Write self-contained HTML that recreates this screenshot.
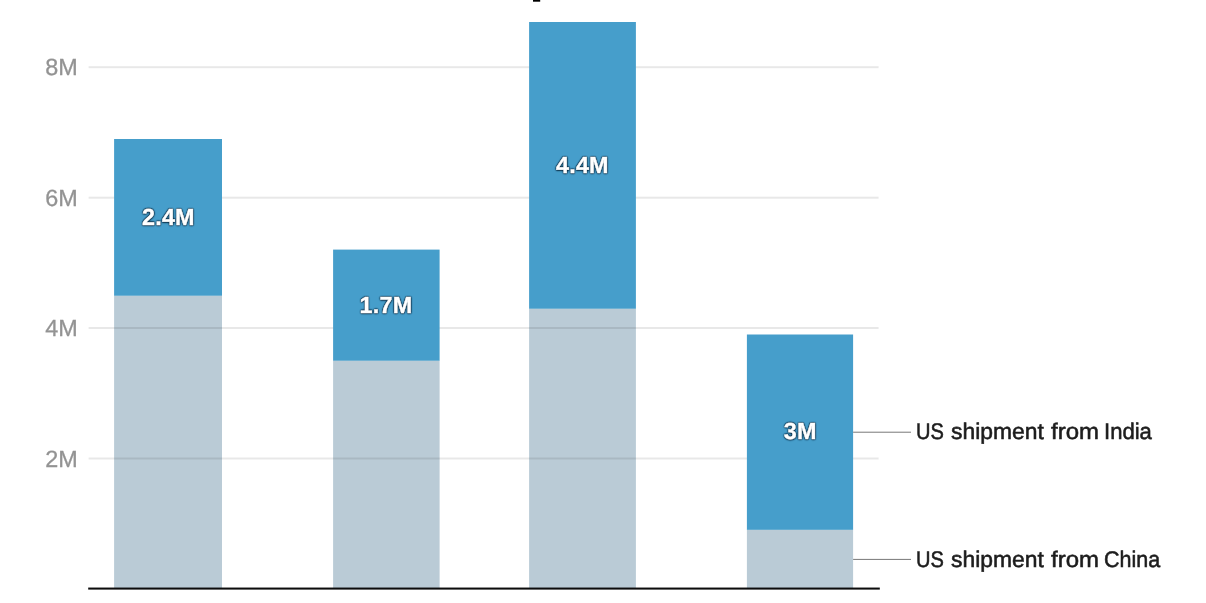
<!DOCTYPE html>
<html lang="en">
<head>
<meta charset="utf-8">
<title>US smartphone shipments</title>
<style>
html,body{margin:0;padding:0;background:#fff;}
body{text-rendering:geometricPrecision;width:1206px;height:603px;position:relative;overflow:hidden;font-family:"Liberation Sans",sans-serif;}
.abs{position:absolute;}
.tick{position:absolute;left:0;width:77.7px;text-align:right;font-size:23.4px;line-height:24px;color:#939393;-webkit-text-stroke:.3px #939393;}
.val{z-index:3;position:absolute;width:108px;text-align:center;font-weight:700;font-size:23.4px;line-height:24px;letter-spacing:.2px;color:#fff;-webkit-text-stroke:.4px #fff;text-shadow:0px 1px 1px rgba(10,40,60,.38),0px -1px 1px rgba(10,40,60,.38),1px 0px 1px rgba(10,40,60,.38),-1px 0px 1px rgba(10,40,60,.38),0.7px 0.7px 1px rgba(10,40,60,.38),-0.7px 0.7px 1px rgba(10,40,60,.38),0.7px -0.7px 1px rgba(10,40,60,.38),-0.7px -0.7px 1px rgba(10,40,60,.38),0 1px 2px rgba(0,20,40,.4);}
.lab{position:absolute;left:0;width:1206px;height:24px;font-size:22.6px;line-height:24px;color:#1d1d1d;white-space:nowrap;-webkit-text-stroke:.55px #1d1d1d;}
.lab span{position:absolute;top:0;transform-origin:0 50%;white-space:nowrap;}
</style>
</head>
<body>
<svg class="abs" style="left:0;top:0" width="1206" height="603" viewBox="0 0 1206 603">
<rect x="533" y="0" width="7.2" height="1.7" fill="#000"/>
<rect x="114.1" y="295.4" width="107.9" height="293.1" fill="#bacbd6"/>
<rect x="333.1" y="360.4" width="106.5" height="228.1" fill="#bacbd6"/>
<rect x="529.1" y="308.4" width="106.8" height="280.1" fill="#bacbd6"/>
<rect x="746.9" y="529.5" width="106.2" height="59.0" fill="#bacbd6"/>
<g fill="#000" fill-opacity=".09">
<rect x="88.6" y="66.2" width="790" height="2"/>
<rect x="88.6" y="196.7" width="790" height="2"/>
<rect x="88.6" y="327.0" width="790" height="2"/>
<rect x="88.6" y="457.5" width="790" height="2"/>
</g>
<rect x="114.1" y="139.0" width="107.9" height="156.7" fill="#469ecb"/>
<rect x="333.1" y="249.6" width="106.5" height="111.1" fill="#469ecb"/>
<rect x="529.1" y="22.0" width="106.8" height="286.7" fill="#469ecb"/>
<rect x="746.9" y="334.5" width="106.2" height="195.3" fill="#469ecb"/>
<rect x="88.2" y="587.55" width="791.6" height="2.05" fill="#0c0c0c"/>
<rect x="853.1" y="431.7" width="57.9" height="1" fill="#787878"/>
<rect x="853.1" y="558.9" width="57.9" height="1" fill="#787878"/>
</svg>
<div class="tick" style="top:54.6px">8M</div>
<div class="tick" style="top:186.1px">6M</div>
<div class="tick" style="top:316.4px">4M</div>
<div class="tick" style="top:447.0px">2M</div>
<div class="val" style="left:114.4px;width:108px;top:205.2px">2.4M</div>
<div class="val" style="left:332.7px;width:106.6px;top:293.0px">1.7M</div>
<div class="val" style="left:528.9px;width:107px;top:153.0px">4.4M</div>
<div class="val" style="left:747.0px;width:106.4px;top:418.9px">3M</div>
<div class="lab" style="top:420px"><span style="left:916.39px;transform:scaleX(0.8880)">US</span> <span style="left:950.80px;transform:scaleX(1.0129)">shipment</span> <span style="left:1050.58px;transform:scaleX(1.0614)">from</span> <span style="left:1103.74px;transform:scaleX(0.9774)">India</span></div>
<div class="lab" style="top:548px"><span style="left:916.39px;transform:scaleX(0.8880)">US</span> <span style="left:950.80px;transform:scaleX(1.0129)">shipment</span> <span style="left:1050.58px;transform:scaleX(1.0614)">from</span> <span style="left:1104.04px;transform:scaleX(0.9526)">China</span></div>
</body>
</html>
